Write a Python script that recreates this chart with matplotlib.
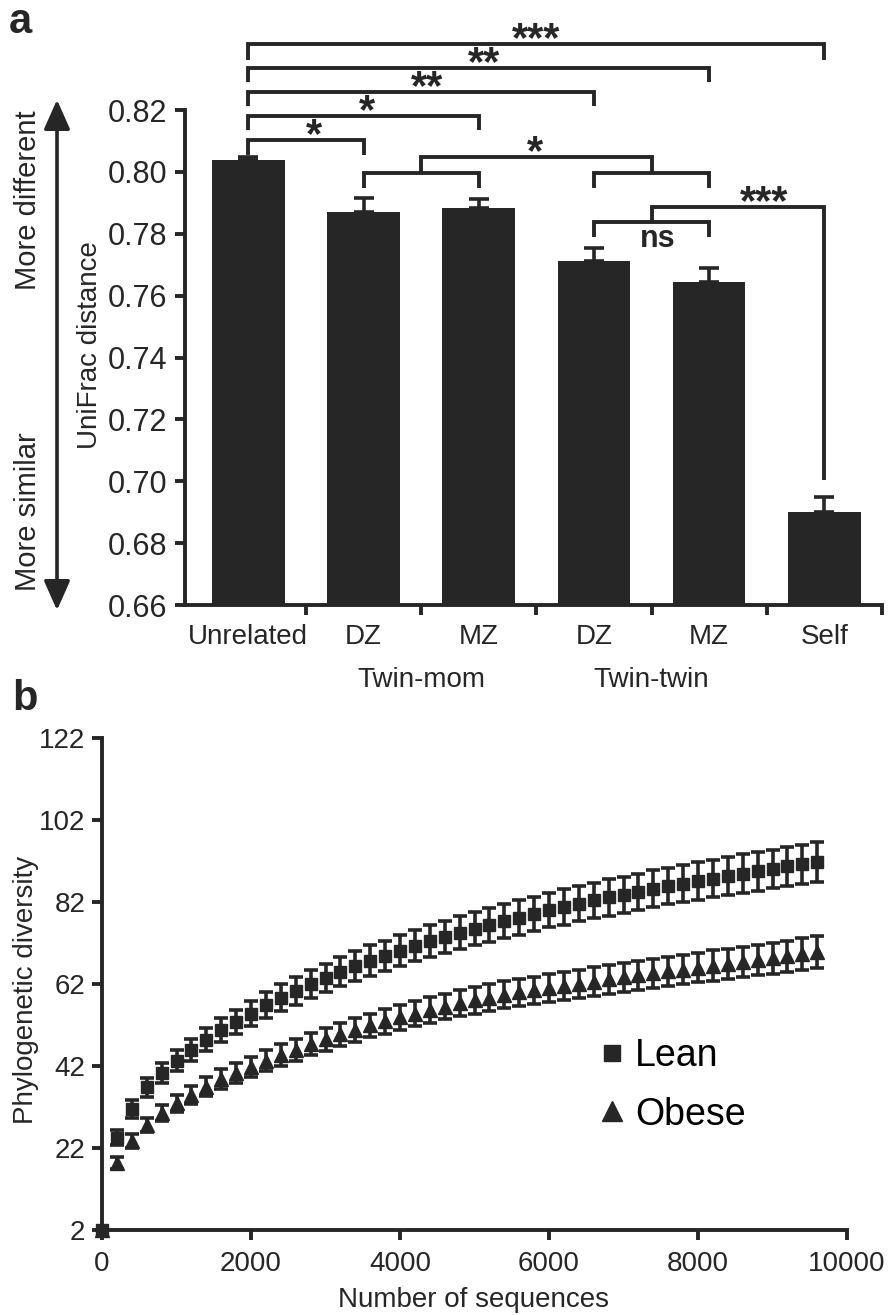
import matplotlib
matplotlib.use("Agg")
import matplotlib.pyplot as plt
from matplotlib.lines import Line2D
from matplotlib.patches import FancyArrowPatch
import numpy as np

plt.rcParams['font.family'] = ['Liberation Sans', 'DejaVu Sans']

INK = '#262626'

# ---- panel a data ----
groups = ['Unrelated', 'DZ', 'MZ', 'DZ', 'MZ', 'Self']
unifrac = [0.8037, 0.7871, 0.7882, 0.7712, 0.7644, 0.6901]
unifrac_err = [0.0011, 0.0044, 0.0030, 0.0043, 0.0046, 0.0048]
yticks_a = [0.66, 0.68, 0.70, 0.72, 0.74, 0.76, 0.78, 0.80, 0.82]

# ---- panel b data ----
seqs = [0, 200, 400, 600, 800, 1000, 1200, 1400, 1600, 1800, 2000,
        2200, 2400, 2600, 2800, 3000, 3200, 3400, 3600, 3800, 4000,
        4200, 4400, 4600, 4800, 5000, 5200, 5400, 5600, 5800, 6000,
        6200, 6400, 6600, 6800, 7000, 7200, 7400, 7600, 7800, 8000,
        8200, 8400, 8600, 8800, 9000, 9200, 9400, 9600]
lean = [2.0, 24.5, 31.5, 36.8, 40.3, 43.3, 46.0, 48.4, 50.7, 52.7, 54.8,
        56.8, 58.6, 60.3, 61.9, 63.5, 65.0, 66.4, 67.7, 68.9, 70.1,
        71.3, 72.4, 73.5, 74.5, 75.5, 76.4, 77.3, 78.2, 79.1, 80.0,
        80.8, 81.6, 82.4, 83.1, 83.8, 84.5, 85.2, 85.9, 86.5, 87.1,
        87.7, 88.3, 88.9, 89.5, 90.1, 90.7, 91.2, 91.8]
lean_err = [0.0, 1.8, 2.2, 2.3, 2.5, 2.6, 2.7, 2.8, 2.9, 3.0, 3.1,
            3.2, 3.3, 3.3, 3.4, 3.5, 3.5, 3.6, 3.7, 3.7, 3.8,
            3.8, 3.9, 3.9, 4.0, 4.0, 4.1, 4.1, 4.2, 4.2, 4.2,
            4.3, 4.3, 4.3, 4.4, 4.4, 4.4, 4.5, 4.5, 4.5, 4.6,
            4.6, 4.6, 4.7, 4.7, 4.7, 4.7, 4.8, 4.8]
obese = [2.0, 18.3, 23.8, 27.6, 30.6, 32.9, 35.0, 37.0, 38.8, 40.3, 41.8,
         43.3, 44.7, 46.0, 47.3, 48.5, 49.7, 50.8, 51.9, 52.9, 53.9,
         54.8, 55.7, 56.5, 57.3, 58.0, 58.7, 59.4, 60.0, 60.5, 61.0,
         61.6, 62.1, 62.6, 63.1, 63.6, 64.1, 64.6, 65.1, 65.5, 66.0,
         66.5, 66.9, 67.4, 67.9, 68.3, 68.8, 69.3, 69.8]
obese_err = [0.0, 1.4, 1.7, 1.8, 2.0, 2.1, 2.2, 2.3, 2.4, 2.5, 2.5,
             2.6, 2.6, 2.7, 2.7, 2.8, 2.8, 2.9, 2.9, 3.0, 3.0,
             3.0, 3.1, 3.1, 3.2, 3.2, 3.2, 3.3, 3.3, 3.3, 3.4,
             3.4, 3.4, 3.5, 3.5, 3.5, 3.5, 3.6, 3.6, 3.6, 3.6,
             3.7, 3.7, 3.7, 3.7, 3.8, 3.8, 3.8, 3.8]
yticks_b = [2, 22, 42, 62, 82, 102, 122]
xticks_b = [0, 2000, 4000, 6000, 8000, 10000]

W, H = 892, 1315
fig = plt.figure(figsize=(W / 100, H / 100), dpi=100)


def fx(px):
    return px / W


def fy(px):
    return 1 - px / H


'''panel a'''
ax1 = fig.add_axes([fx(185), fy(605), fx(882 - 185), (605 - 110) / H])
x = np.arange(len(groups))
ax1.bar(x, unifrac, width=0.63, color=INK, zorder=2)
ax1.errorbar(x, unifrac, yerr=[np.zeros(len(x)), unifrac_err], fmt='none',
             ecolor=INK, elinewidth=2.6, capsize=7, capthick=2.6, zorder=1)
ax1.set_xlim(-0.55, 5.5)
ax1.set_ylim(0.66, 0.82)
ax1.set_yticks(yticks_a)
ax1.set_yticklabels(['%.2f' % v for v in yticks_a])
ax1.set_xticks(x + 0.5)
ax1.set_xticklabels([])
ax1.set_xticks(x, minor=True)
ax1.set_xticklabels(groups, minor=True)
ax1.tick_params(axis='x', which='minor', length=0, pad=14, labelsize=20, colors=INK)
ax1.tick_params(axis='both', which='major', length=7, width=2.8, color=INK,
                labelsize=22, labelcolor=INK)
ax1.tick_params(axis='y', pad=6)
for s in ['top', 'right']:
    ax1.spines[s].set_visible(False)
for s in ['left', 'bottom']:
    ax1.spines[s].set_linewidth(2.8)
    ax1.spines[s].set_color(INK)

for lab, xc in [('Twin-mom', 1.5), ('Twin-twin', 3.5)]:
    ax1.annotate(lab, xy=(xc, -0.166), xycoords=('data', 'axes fraction'),
                 ha='center', va='baseline', fontsize=20, color=INK)

# significance brackets
def bracket(x1, x2, ytop, ylow, ylow2=None):
    if ylow2 is None:
        ylow2 = ylow
    ax1.plot([x1, x1, x2, x2], [ylow, ytop, ytop, ylow2], color=INK, lw=2.8,
             clip_on=False, solid_joinstyle='miter', solid_capstyle='butt')


def stars(txt, xc, y, size=30, dy=-5, bold=True):
    ax1.annotate(txt, xy=(xc, y), xytext=(0, dy), textcoords='offset points',
                 ha='center', va='baseline', fontsize=size, color=INK,
                 fontweight='bold' if bold else 'normal', annotation_clip=False)


bracket(0, 5, 0.8413, 0.8361)
stars('***', 2.5, 0.8413)
bracket(0, 4, 0.8336, 0.8290)
stars('**', 2.05, 0.8336)
bracket(0, 3, 0.8258, 0.8213)
stars('**', 1.55, 0.8258)
bracket(0, 2, 0.8180, 0.8135)
stars('*', 1.03, 0.8180)
bracket(0, 1, 0.8103, 0.8054)
stars('*', 0.57, 0.8103)
bracket(1, 2, 0.7996, 0.7948)
bracket(3, 4, 0.7996, 0.7948)
bracket(1.5, 3.5, 0.8048, 0.7996)
stars('*', 2.49, 0.8048)
bracket(3, 4, 0.7838, 0.7789)
stars('ns', 3.55, 0.7838, size=22, dy=-18)
bracket(3.5, 5, 0.7886, 0.7838, 0.7004)
stars('***', 4.48, 0.7886)

# left arrow
fig.add_artist(FancyArrowPatch((fx(57), fy(613)), (fx(57), fy(97)),
                               transform=fig.transFigure,
                               arrowstyle='<|-|>,head_length=0.9,head_width=0.4',
                               mutation_scale=20, lw=2.6, color=INK))
fig.text(fx(28), fy(200), 'More different', rotation=90, ha='center', va='center',
         fontsize=21, color=INK)
fig.text(fx(28), fy(512), 'More similar', rotation=90, ha='center', va='center',
         fontsize=21, color=INK)
fig.text(fx(90), fy(345), 'UniFrac distance', rotation=90, ha='center', va='center',
         fontsize=20, color=INK)

'''panel b'''
ax2 = fig.add_axes([fx(102), fy(1230), fx(745), (1230 - 738) / H])
ax2.errorbar(seqs, lean, yerr=lean_err, fmt='s', ms=8.5, color=INK, ecolor=INK,
             elinewidth=2.6, capsize=5, capthick=2.6, clip_on=False)
ax2.errorbar(seqs, obese, yerr=obese_err, fmt='^', ms=10, color=INK, ecolor=INK,
             elinewidth=2.6, capsize=5, capthick=2.6, clip_on=False)
ax2.set_xlim(0, 10000)
ax2.set_ylim(2, 122)
ax2.set_xticks(xticks_b)
ax2.set_yticks(yticks_b)
ax2.tick_params(axis='both', length=7, width=2.8, color=INK, labelsize=20,
                labelcolor=INK)
ax2.tick_params(axis='x', pad=8)
ax2.tick_params(axis='y', pad=5)
for s in ['top', 'right']:
    ax2.spines[s].set_visible(False)
for s in ['left', 'bottom']:
    ax2.spines[s].set_linewidth(2.8)
    ax2.spines[s].set_color(INK)

handles = [Line2D([], [], marker='s', ls='none', color=INK, ms=12),
           Line2D([], [], marker='^', ls='none', color=INK, ms=14)]
ax2.legend(handles, ['Lean', 'Obese'], frameon=False, fontsize=27,
           loc='upper left', bbox_to_anchor=(0.668, 0.39), borderpad=0,
           handlelength=0.65, handletextpad=0.3, labelspacing=0.6,
           borderaxespad=0)

fig.text(fx(474), fy(1307), 'Number of sequences', ha='center', va='baseline',
         fontsize=20, color=INK)
fig.text(fx(26), fy(990), 'Phylogenetic diversity', rotation=90, ha='center',
         va='center', fontsize=20, color=INK)

fig.text(fx(9), fy(33), 'a', fontsize=30, fontweight='bold', va='baseline', color=INK)
fig.text(fx(12), fy(710), 'b', fontsize=30, fontweight='bold', va='baseline', color=INK)

fig.savefig('out.png', dpi=100)
